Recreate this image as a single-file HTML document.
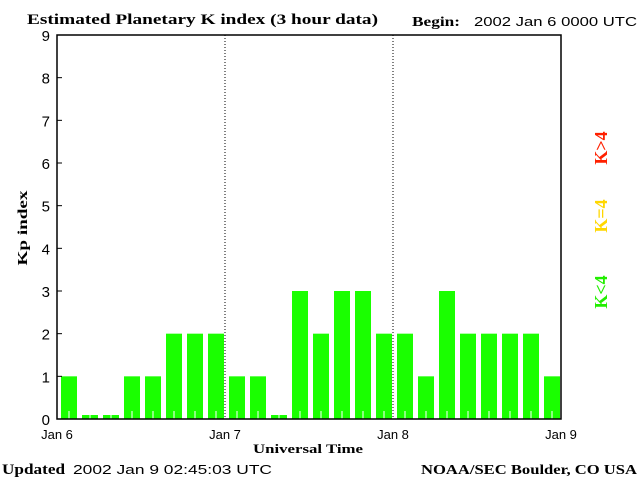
<!DOCTYPE html>
<html><head><meta charset="utf-8">
<style>
body{margin:0;background:#fff;width:640px;height:480px;overflow:hidden}
text{font-family:"Liberation Sans",sans-serif}
.serif{font-family:"Liberation Serif",serif;font-weight:bold}
</style></head><body>
<svg width="640" height="480" xmlns="http://www.w3.org/2000/svg">
<text class="serif" x="27" y="24" font-size="15" textLength="351" lengthAdjust="spacingAndGlyphs">Estimated Planetary K index (3 hour data)</text>
<text class="serif" x="412" y="26" font-size="14" textLength="48" lengthAdjust="spacingAndGlyphs">Begin:</text>
<text x="474" y="26" font-size="13" textLength="163" lengthAdjust="spacingAndGlyphs">2002 Jan 6 0000 UTC</text>
<g id="bars"></g>
<g id="axes"></g>
<text class="serif" x="253" y="453" font-size="13" textLength="110" lengthAdjust="spacingAndGlyphs">Universal Time</text>
<text class="serif" transform="translate(27,228) rotate(-90)" font-size="14" text-anchor="middle" textLength="75" lengthAdjust="spacingAndGlyphs">Kp index</text>
<text class="serif" x="2" y="474" font-size="15" textLength="63" lengthAdjust="spacingAndGlyphs">Updated</text>
<text x="73" y="474" font-size="13" textLength="199" lengthAdjust="spacingAndGlyphs">2002 Jan  9 02:45:03 UTC</text>
<text class="serif" x="421" y="474" font-size="14" textLength="216" lengthAdjust="spacingAndGlyphs">NOAA/SEC Boulder, CO USA</text>
<text class="serif" transform="translate(607,148) rotate(-90)" font-size="18" fill="#ff2000" text-anchor="middle">K&gt;4</text>
<text class="serif" transform="translate(607,216) rotate(-90)" font-size="18" fill="#ffd700" text-anchor="middle">K=4</text>
<text class="serif" transform="translate(607,292) rotate(-90)" font-size="18" fill="#22ee00" text-anchor="middle">K&lt;4</text>
</svg>
<script>
const kpValues=[1,0,0,1,1,2,2,2, 1,1,0,3,2,3,3,2, 2,1,3,2,2,2,2,1];
const yTicks=[0,1,2,3,4,5,6,7,8,9];
const dayLabels=["Jan 6","Jan 7","Jan 8","Jan 9"];
const NS="http://www.w3.org/2000/svg";
const X0=57,X1=561,Y0=419,Y9=35;
const xScale=i=>X0+(X1-X0)*i/24;
const yScale=v=>Y0-(Y0-Y9)*v/9;
function mk(t,a,p){const e=document.createElementNS(NS,t);for(const k in a)e.setAttribute(k,a[k]);p.appendChild(e);return e;}
const bars=document.getElementById('bars'),axes=document.getElementById('axes');
kpValues.forEach((v,i)=>{
 const x=xScale(i)+4,w=16;
 let top=yScale(v); if(v===0) top=Y0-4;
 const col=v>4?'#ff2000':(v===4?'#ffd700':'#1aff00');
 const r=mk('rect',{x:x,y:top,width:w,height:Y0-top,fill:col},bars);
 
 
 const t=mk('line',{x1:x+w/2,x2:x+w/2,y1:Y0-8,y2:Y0,stroke:'#fff'},bars);
 
 
});
[1,2].forEach(d=>{const x=xScale(d*8);const l=mk('line',{x1:x,x2:x,y1:Y9,y2:Y0,stroke:'#000','stroke-dasharray':'1,2'},axes);
 
 });
const fr=mk('rect',{x:X0,y:Y9,width:X1-X0,height:Y0-Y9,fill:'none',stroke:'#000','stroke-width':1.5},axes);


yTicks.forEach(v=>{const y=yScale(v);
 mk('line',{x1:X0,x2:X0+5,y1:y,y2:y,stroke:'#000'},axes);
 const t=mk('text',{x:50,y:y+6,'font-size':15,'text-anchor':'end'},axes);t.textContent=v;
 
 });
dayLabels.forEach((s,i)=>{const t=mk('text',{x:xScale(i*8),y:439,'font-size':13,'text-anchor':'middle'},axes);t.textContent=s;
 
 });
</script>
</body></html>
